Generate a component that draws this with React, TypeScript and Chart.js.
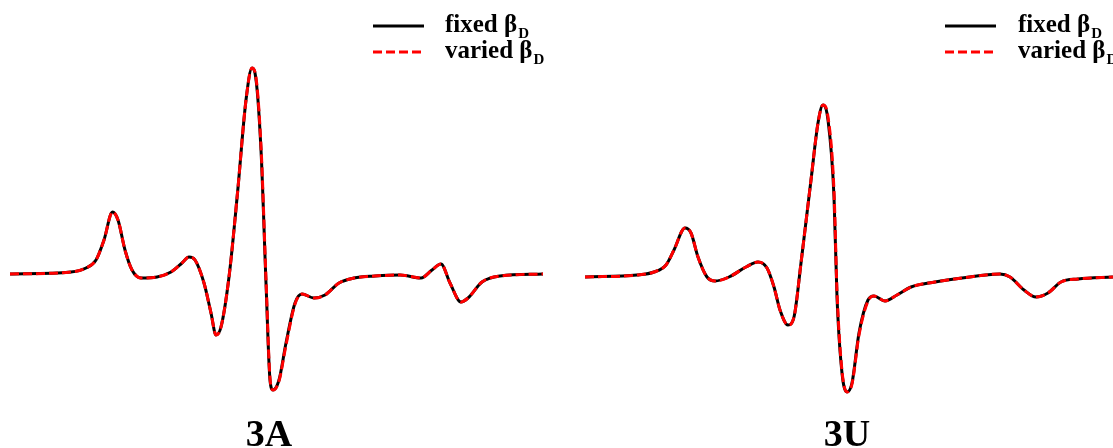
import React, { useEffect, useRef } from "react";
import { Chart, registerables } from "chart.js";

Chart.register(...registerables);

// Panel 3A: time (ms) and amplitude (mV)
const timeA = [0, 122, 152, 172, 188, 205, 216, 230, 244, 262, 294, 322, 344, 358, 370, 388, 402, 412, 422, 438, 455, 472, 484, 490, 502, 512, 520, 526, 538, 552, 570, 584, 608, 630, 658, 688, 730, 780, 822, 844, 862, 880, 902, 916, 944, 980, 1066];
const fixedA = [0, 0.02, 0.06, 0.14, 0.34, 0.62, 0.54, 0.24, 0.04, -0.04, -0.03, 0.02, 0.11, 0.17, 0.14, -0.09, -0.39, -0.61, -0.53, -0.03, 0.81, 1.74, 2.06, 2.01, 1.24, -0.09, -1.06, -1.16, -1.06, -0.69, -0.29, -0.2, -0.24, -0.21, -0.09, -0.04, -0.02, -0.01, -0.04, 0.04, 0.1, -0.09, -0.28, -0.24, -0.08, -0.02, 0];
const variedA = [0, 0.02, 0.06, 0.14, 0.34, 0.62, 0.54, 0.24, 0.04, -0.04, -0.03, 0.02, 0.11, 0.17, 0.14, -0.09, -0.39, -0.61, -0.53, -0.03, 0.81, 1.74, 2.06, 2.02, 1.28, -0.05, -1.04, -1.16, -1.07, -0.71, -0.3, -0.2, -0.24, -0.21, -0.09, -0.04, -0.02, -0.01, -0.04, 0.04, 0.1, -0.09, -0.28, -0.24, -0.08, -0.02, 0];

// Panel 3U
const timeU = [0, 104, 138, 162, 178, 200, 212, 226, 244, 260, 288, 322, 346, 364, 378, 390, 406, 418, 432, 452, 466, 476, 486, 498, 504, 514, 524, 534, 548, 566, 578, 600, 624, 652, 700, 754, 830, 850, 878, 902, 926, 952, 986, 1056];
const fixedU = [0, 0.02, 0.05, 0.12, 0.27, 0.49, 0.44, 0.2, 0, -0.04, 0, 0.1, 0.15, 0.09, -0.1, -0.33, -0.48, -0.4, 0.14, 0.97, 1.54, 1.72, 1.57, 0.8, -0.2, -0.96, -1.15, -1.06, -0.56, -0.23, -0.19, -0.24, -0.18, -0.1, -0.05, -0.01, 0.03, 0, -0.13, -0.2, -0.16, -0.05, -0.02, 0];
const variedU = [0, 0.02, 0.05, 0.12, 0.27, 0.49, 0.44, 0.2, 0, -0.04, 0, 0.1, 0.15, 0.09, -0.1, -0.33, -0.48, -0.4, 0.14, 0.97, 1.54, 1.72, 1.6, 0.86, -0.14, -0.94, -1.15, -1.07, -0.58, -0.24, -0.19, -0.24, -0.18, -0.1, -0.05, -0.01, 0.03, 0, -0.13, -0.2, -0.16, -0.05, -0.02, 0];

const legendLabels = ["fixed β", "varied β"];
const legendSub = "D";
const panelLabels = ["3A", "3U"];

const SERIF = '"Liberation Serif", "Times New Roman", serif';

function makePlugin(label: string, legendX: number, textX: number, labelX: number) {
  return {
    id: "decor" + label,
    afterDraw(chart: any) {
      const ctx = chart.ctx;
      ctx.save();
      const rows = [
        { y: 26, color: "#000000", dash: [] as number[], text: legendLabels[0], base: 32 },
        { y: 52, color: "#ff0000", dash: [9, 4], text: legendLabels[1], base: 58 },
      ];
      rows.forEach((r) => {
        ctx.beginPath();
        ctx.strokeStyle = r.color;
        ctx.lineWidth = 3;
        ctx.setLineDash(r.dash);
        ctx.moveTo(legendX, r.y);
        ctx.lineTo(legendX + 51, r.y);
        ctx.stroke();
        ctx.setLineDash([]);
        ctx.fillStyle = "#000000";
        ctx.textBaseline = "alphabetic";
        ctx.textAlign = "left";
        ctx.font = "bold 25px " + SERIF;
        ctx.fillText(r.text, textX, r.base);
        const w = ctx.measureText(r.text).width;
        ctx.font = "bold 15px " + SERIF;
        ctx.fillText(legendSub, textX + w + 1, r.base + 6);
      });
      ctx.font = "bold 38px " + SERIF;
      ctx.textAlign = "center";
      ctx.fillText(label, labelX, 446);
      ctx.restore();
    },
  };
}

function Panel(props: {
  time: number[];
  fixed: number[];
  varied: number[];
  xMin: number;
  xMax: number;
  yMin: number;
  yMax: number;
  width: number;
  left: number;
  label: string;
  legendX: number;
  textX: number;
  labelX: number;
}) {
  const ref = useRef<HTMLCanvasElement | null>(null);
  useEffect(() => {
    if (!ref.current) return;
    const chart = new Chart(ref.current, {
      type: "line",
      data: {
        datasets: [
          {
            label: "fixed",
            data: props.time.map((t, i) => ({ x: t, y: props.fixed[i] })),
            borderColor: "#000000",
            borderWidth: 3,
            pointRadius: 0,
            cubicInterpolationMode: "monotone",
            fill: false,
            order: 2,
          },
          {
            label: "varied",
            data: props.time.map((t, i) => ({ x: t, y: props.varied[i] })),
            borderColor: "#ff0000",
            borderWidth: 3,
            borderDash: [9, 4],
            pointRadius: 0,
            cubicInterpolationMode: "monotone",
            fill: false,
            order: 1,
          },
        ],
      },
      options: {
        animation: false,
        responsive: false,
        maintainAspectRatio: false,
        layout: { padding: 0 },
        plugins: { legend: { display: false }, tooltip: { enabled: false }, title: { display: false } },
        scales: {
          x: { type: "linear", min: props.xMin, max: props.xMax, display: false },
          y: { type: "linear", min: props.yMin, max: props.yMax, display: false },
        },
      },
      plugins: [makePlugin(props.label, props.legendX, props.textX, props.labelX)],
    } as any);
    return () => chart.destroy();
  }, []);
  return (
    <canvas
      ref={ref}
      width={props.width}
      height={448}
      style={{ position: "absolute", left: props.left, top: 0, display: "block" }}
    />
  );
}

export default function App() {
  return (
    <div
      style={{
        position: "fixed",
        left: 0,
        top: 0,
        width: 1113,
        height: 448,
        overflow: "hidden",
        background: "#ffffff",
      }}
    >
      <Panel
        time={timeA}
        fixed={fixedA}
        varied={variedA}
        xMin={-20}
        xMax={1100}
        yMin={-1.74}
        yMax={2.74}
        width={560}
        left={0}
        label={panelLabels[0]}
        legendX={373}
        textX={445}
        labelX={269}
      />
      <Panel
        time={timeU}
        fixed={fixedU}
        varied={variedU}
        xMin={-20}
        xMax={1056}
        yMin={-1.71}
        yMax={2.77}
        width={538}
        left={575}
        label={panelLabels[1]}
        legendX={370}
        textX={443}
        labelX={272}
      />
    </div>
  );
}
